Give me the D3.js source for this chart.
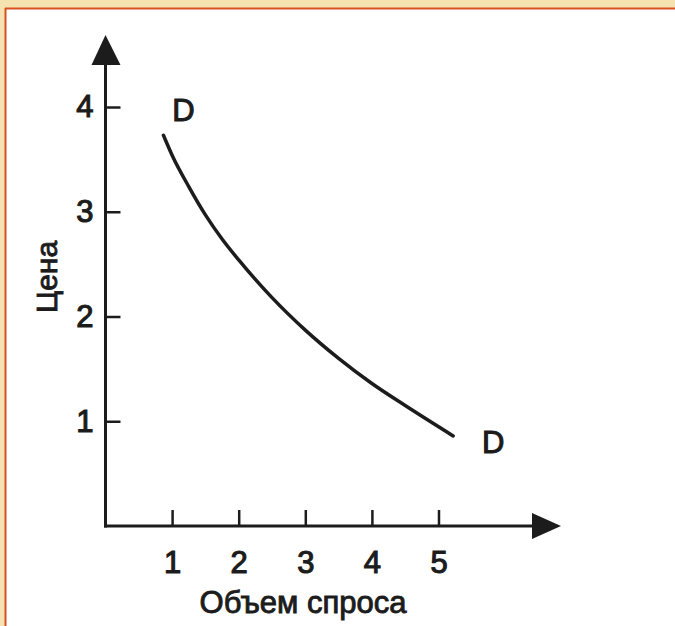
<!DOCTYPE html>
<html>
<head>
<meta charset="utf-8">
<script src="https://cdn.jsdelivr.net/npm/d3@7/dist/d3.min.js"></script>
<style>
html,body{margin:0;padding:0;background:#fff;}
svg{display:block;}
</style>
</head>
<body>
<svg id="chart" width="675" height="626"></svg>
<script>
// Data
const quantity = [0.87, 1.00, 1.25, 1.50, 1.75, 2.00, 2.50, 3.00, 3.50, 4.00, 4.50, 5.22];
const price    = [3.73, 3.54, 3.24, 2.97, 2.74, 2.54, 2.18, 1.87, 1.60, 1.36, 1.15, 0.86];
const xTicks = [1, 2, 3, 4, 5];
const yTicks = [1, 2, 3, 4];
const xTitle = "Объем спроса";
const yTitle = "Цена";
const curveLabel = "D";

const svg = d3.select("#chart");
const W = 675, H = 626;
const ink = "#1c1c1c";
const font = "'Liberation Sans', Arial, sans-serif";

// Frame (slide background + border)
svg.append("rect").attr("x",0).attr("y",0).attr("width",W).attr("height",H).attr("fill","#f6e2b0");
svg.append("rect").attr("x",6).attr("y",9).attr("width",W-6).attr("height",H-9).attr("fill","#ffffff");
svg.append("line").attr("x1",5).attr("x2",W).attr("y1",8.5).attr("y2",8.5).attr("stroke","#d8501e").attr("stroke-width",2);
svg.append("line").attr("x1",5.5).attr("x2",5.5).attr("y1",8).attr("y2",H).attr("stroke","#d8501e").attr("stroke-width",2);

const x = d3.scaleLinear().domain([0, 5]).range([105.5, 438.5]);
const y = d3.scaleLinear().domain([0, 4]).range([526, 107]);

const fs = 31;
const sw = 1.1;

// Axis lines with arrowheads
const x0 = x(0), y0 = y(0);
const yTipY = 35, xTipX = 561;
svg.append("line").attr("x1",x0).attr("x2",x0).attr("y1",y0+1.5).attr("y2",yTipY+20)
  .attr("stroke",ink).attr("stroke-width",3);
svg.append("line").attr("x1",x0-1.5).attr("x2",xTipX-20).attr("y1",y0).attr("y2",y0)
  .attr("stroke",ink).attr("stroke-width",3);
svg.append("path")
  .attr("d", `M${x0},${yTipY} L${x0-14},${yTipY+30} L${x0+15},${yTipY+30} Z`)
  .attr("fill",ink);
svg.append("path")
  .attr("d", `M${xTipX},${y0} L${xTipX-29},${y0-13} L${xTipX-29},${y0+13} Z`)
  .attr("fill",ink);

// Axes (ticks point inward)
const gx = svg.append("g").attr("transform",`translate(0,${y0})`)
  .call(d3.axisBottom(x).tickValues(xTicks).tickSizeInner(-16).tickSizeOuter(0).tickPadding(25).tickFormat(d3.format("d")));
const gy = svg.append("g").attr("transform",`translate(${x0},0)`)
  .call(d3.axisLeft(y).tickValues(yTicks).tickSizeInner(-15).tickSizeOuter(0).tickPadding(12).tickFormat(d3.format("d")));
[gx, gy].forEach(g => {
  g.select(".domain").remove();
  g.selectAll(".tick line").attr("stroke",ink).attr("stroke-width",2.5);
  g.selectAll(".tick text").attr("fill",ink).attr("stroke",ink).attr("stroke-width",sw)
    .style("font-family",font).style("font-size",fs+"px");
});

// Demand curve
const pts = quantity.map((q,i) => [q, price[i]]);
svg.append("path")
  .datum(pts)
  .attr("d", d3.line().x(d => x(d[0])).y(d => y(d[1])).curve(d3.curveMonotoneX))
  .attr("fill","none").attr("stroke",ink).attr("stroke-width",3.5).attr("stroke-linecap","round");

// Curve labels
const first = pts[0], last = pts[pts.length-1];
svg.append("text").attr("x", x(first[0]) + 20).attr("y", y(first[1]) - 14)
  .attr("text-anchor","middle").text(curveLabel)
  .attr("fill",ink).attr("stroke",ink).attr("stroke-width",sw)
  .style("font-family",font).style("font-size",fs+"px");
svg.append("text").attr("x", x(last[0]) + 40).attr("y", y(last[1]) + 17)
  .attr("text-anchor","middle").text(curveLabel)
  .attr("fill",ink).attr("stroke",ink).attr("stroke-width",sw)
  .style("font-family",font).style("font-size",fs+"px");

// Axis titles
svg.append("text").attr("x",303).attr("y",613).attr("text-anchor","middle").text(xTitle)
  .attr("fill",ink).attr("stroke",ink).attr("stroke-width",0.9)
  .style("font-family",font).style("font-size","31px");
svg.append("text").attr("transform","translate(57,277) rotate(-90)").attr("text-anchor","middle").text(yTitle)
  .attr("fill",ink).attr("stroke",ink).attr("stroke-width",0.9)
  .style("font-family",font).style("font-size","30px");
</script>
</body>
</html>
